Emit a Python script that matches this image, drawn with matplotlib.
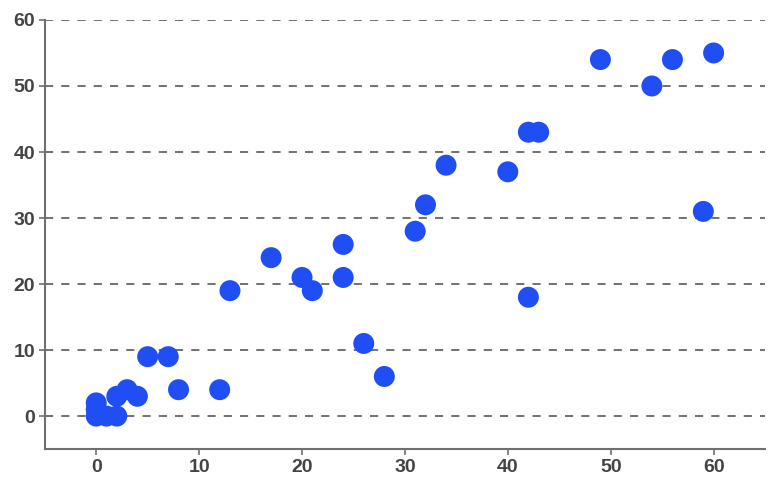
import matplotlib
matplotlib.use("Agg")
import matplotlib.pyplot as plt

x_vals = [0, 0, 0, 1, 2, 2, 3, 4, 5, 7, 8, 12, 13, 17, 20, 21, 24, 24, 26, 28,
          31, 32, 34, 40, 42, 43, 42, 49, 54, 56, 60, 59]
y_vals = [0, 1, 2, 0, 0, 3, 4, 3, 9, 9, 4, 4, 19, 24, 21, 19, 26, 21, 11, 6,
          28, 32, 38, 37, 43, 43, 18, 54, 50, 54, 55, 31]
x_ticks = [0, 10, 20, 30, 40, 50, 60]
y_ticks = [0, 10, 20, 30, 40, 50, 60]

plt.rcParams['font.family'] = ['Liberation Sans', 'DejaVu Sans']

fig = plt.figure(figsize=(7.72, 4.99), dpi=100)
ax = fig.add_axes([0.058, 0.100, 0.933, 0.860])

ax.scatter(x_vals, y_vals, s=228, color='#1f4ef5', edgecolors='none', zorder=3)

ax.set_xlim(-5, 65)
ax.set_ylim(-5, 60)
ax.set_xticks(x_ticks)
ax.set_yticks(y_ticks)

ax.yaxis.grid(True, linestyle=(0, (4.5, 4.5)), color='#666666', linewidth=1.3)
ax.xaxis.grid(False)
ax.set_axisbelow(True)

for s in ['top', 'right']:
    ax.spines[s].set_visible(False)
for s in ['left', 'bottom']:
    ax.spines[s].set_color('#6f6f6f')
    ax.spines[s].set_linewidth(1.5)

ax.tick_params(axis='both', direction='out', length=4, width=1.2, color='#6f6f6f',
               labelsize=14, labelcolor='#444444', pad=3)
for lab in ax.get_xticklabels() + ax.get_yticklabels():
    lab.set_fontweight('bold')

fig.savefig('out.png', dpi=100)
